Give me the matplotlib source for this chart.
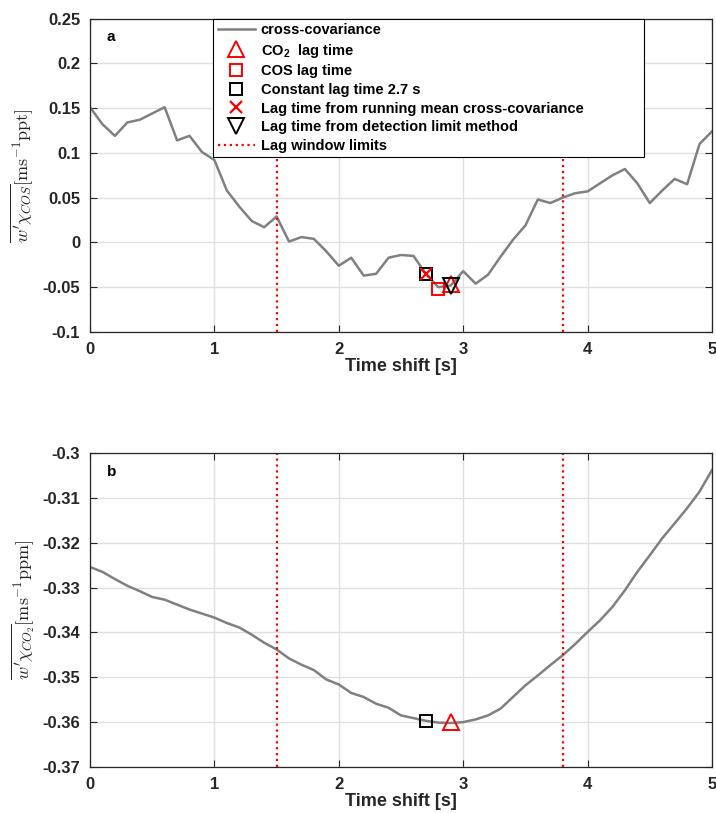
import matplotlib
matplotlib.use("Agg")
import matplotlib.pyplot as plt
import numpy as np

# ---- data ----
time_shift = [round(0.1 * i, 1) for i in range(51)]

cov_cos = [0.151, 0.132, 0.119, 0.134, 0.137, 0.144, 0.151, 0.114, 0.119, 0.101,
           0.092, 0.058, 0.040, 0.024, 0.017, 0.029, 0.001, 0.006, 0.004, -0.010,
           -0.026, -0.017, -0.037, -0.035, -0.017, -0.014, -0.015, -0.035, -0.050, -0.048,
           -0.032, -0.046, -0.036, -0.016, 0.003, 0.019, 0.048, 0.044, 0.050, 0.055,
           0.057, 0.066, 0.075, 0.082, 0.066, 0.044, 0.058, 0.071, 0.065, 0.110,
           0.124]

cov_co2 = [-0.3254, -0.3265, -0.3281, -0.3296, -0.3308, -0.3321, -0.3327, -0.3338, -0.3349, -0.3358,
           -0.3367, -0.3379, -0.3389, -0.3405, -0.3423, -0.3438, -0.3458, -0.3472, -0.3484, -0.3505,
           -0.3516, -0.3535, -0.3544, -0.3559, -0.3568, -0.3585, -0.3591, -0.3597, -0.3601, -0.3602,
           -0.3600, -0.3594, -0.3585, -0.3570, -0.3544, -0.3518, -0.3496, -0.3473, -0.3451, -0.3426,
           -0.3399, -0.3373, -0.3343, -0.3306, -0.3265, -0.3228, -0.3190, -0.3157, -0.3123, -0.3086,
           -0.3038]

lag_window = [1.5, 3.8]

# markers, panel a (x, y)
co2_lag_a = (2.9, -0.046)
cos_lag_a = (2.8, -0.052)
const_lag_a = (2.7, -0.035)
runmean_lag_a = (2.7, -0.035)
detlim_lag_a = (2.9, -0.049)

# markers, panel b
const_lag_b = (2.7, -0.3597)
co2_lag_b = (2.9, -0.3600)

xticks = [0, 1, 2, 3, 4, 5]
yticks_a = [-0.1, -0.05, 0, 0.05, 0.1, 0.15, 0.2, 0.25]
ytick_labels_a = ['-0.1', '-0.05', '0', '0.05', '0.1', '0.15', '0.2', '0.25']
yticks_b = [-0.37, -0.36, -0.35, -0.34, -0.33, -0.32, -0.31, -0.3]
ytick_labels_b = ['-0.37', '-0.36', '-0.35', '-0.34', '-0.33', '-0.32', '-0.31', '-0.3']

# ---- style ----
plt.rcParams['font.family'] = ['Liberation Sans', 'DejaVu Sans']
plt.rcParams['font.weight'] = 'bold'
plt.rcParams['mathtext.fontset'] = 'custom'
plt.rcParams['mathtext.rm'] = 'Liberation Sans:bold'
plt.rcParams['mathtext.bf'] = 'Liberation Sans:bold'
plt.rcParams['mathtext.it'] = 'Liberation Sans:bold:italic'

txt_col = (0.15, 0.15, 0.15)
line_col = (0.5, 0.5, 0.5)
grid_col = (0.88, 0.88, 0.88)

fig = plt.figure(figsize=(7.16, 8.13), dpi=100)
ax1 = fig.add_axes([0.1257, 0.5916, 0.8687, 0.3856])
ax2 = fig.add_axes([0.1257, 0.0566, 0.8687, 0.3862])


def style_axes(ax, yticks, ylabels, ylim):
    ax.set_xlim(0, 5)
    ax.set_ylim(*ylim)
    ax.set_xticks(xticks)
    ax.set_xticklabels([str(v) for v in xticks])
    ax.set_yticks(yticks)
    ax.set_yticklabels(ylabels)
    ax.grid(True, color=grid_col, linewidth=1.0)
    ax.set_axisbelow(True)
    ax.tick_params(direction='in', length=5, width=0.8, top=True, right=True,
                   labelsize=12, colors=txt_col, labelcolor=txt_col, pad=7)
    for lab in ax.get_xticklabels() + ax.get_yticklabels():
        lab.set_fontweight('bold')
    for s in ax.spines.values():
        s.set_color(txt_col)
        s.set_linewidth(0.9)
    ax.set_xlabel('Time shift [s]', fontsize=13, fontweight='bold', color=txt_col, labelpad=1)


# ---- panel a ----
l_cc, = ax1.plot(time_shift, cov_cos, color=line_col, linewidth=1.8, label='cross-covariance')
h_co2, = ax1.plot(*co2_lag_a, linestyle='none', marker='^', markersize=12, markerfacecolor='none',
                  markeredgecolor='red', markeredgewidth=1.4, label=r'CO$_{2}$  lag time')
h_cos, = ax1.plot(*cos_lag_a, linestyle='none', marker='s', markersize=8, markerfacecolor='none',
                  markeredgecolor='red', markeredgewidth=1.4, label='COS lag time')
h_const, = ax1.plot(*const_lag_a, linestyle='none', marker='s', markersize=8, markerfacecolor='none',
                    markeredgecolor='black', markeredgewidth=1.4, label='Constant lag time 2.7 s')
h_rm, = ax1.plot(*runmean_lag_a, linestyle='none', marker='x', markersize=8,
                 markeredgecolor='red', markeredgewidth=1.6,
                 label='Lag time from running mean cross-covariance')
h_dl, = ax1.plot(*detlim_lag_a, linestyle='none', marker='v', markersize=12, markerfacecolor='none',
                 markeredgecolor='black', markeredgewidth=1.4,
                 label='Lag time from detection limit method')
h_win = None
for i, lw in enumerate(lag_window):
    h = ax1.axvline(lw, color='red', linestyle=':', linewidth=1.6,
                    label='Lag window limits' if i == 0 else None)
    if i == 0:
        h_win = h

style_axes(ax1, yticks_a, ytick_labels_a, (-0.1, 0.25))
ax1.set_ylabel(r'$\overline{w^{\prime}\chi_{COS}}[\mathrm{ms}^{-1}\mathrm{ppt}]$',
               fontsize=13, math_fontfamily='cm', color=txt_col, labelpad=5)
ax1.text(0.027, 0.94, 'a', transform=ax1.transAxes, fontsize=11, fontweight='bold',
         va='center', ha='left', color='black')

leg = ax1.legend(handles=[l_cc, h_co2, h_cos, h_const, h_rm, h_dl, h_win],
                 loc='upper left', bbox_to_anchor=(0.198, 0.0, 0.693, 1.0), mode='expand',
                 fontsize=10.5,
                 frameon=True, fancybox=False, framealpha=1, edgecolor='black',
                 handlelength=2.6, handletextpad=0.35, borderpad=0.3, labelspacing=0.32,
                 borderaxespad=0)
leg.get_frame().set_linewidth(0.8)
for t in leg.get_texts():
    t.set_fontweight('bold')

# ---- panel b ----
ax2.plot(time_shift, cov_co2, color=line_col, linewidth=1.8)
ax2.plot(*const_lag_b, linestyle='none', marker='s', markersize=8, markerfacecolor='none',
         markeredgecolor='black', markeredgewidth=1.4)
ax2.plot(*co2_lag_b, linestyle='none', marker='^', markersize=12, markerfacecolor='none',
         markeredgecolor='red', markeredgewidth=1.4)
for lw in lag_window:
    ax2.axvline(lw, color='red', linestyle=':', linewidth=1.6)

style_axes(ax2, yticks_b, ytick_labels_b, (-0.37, -0.3))
ax2.set_ylabel(r'$\overline{w^{\prime}\chi_{CO_2}}[\mathrm{ms}^{-1}\mathrm{ppm}]$',
               fontsize=13, math_fontfamily='cm', color=txt_col, labelpad=5)
ax2.text(0.027, 0.94, 'b', transform=ax2.transAxes, fontsize=11, fontweight='bold',
         va='center', ha='left', color='black')

fig.savefig('out.png', dpi=100)
